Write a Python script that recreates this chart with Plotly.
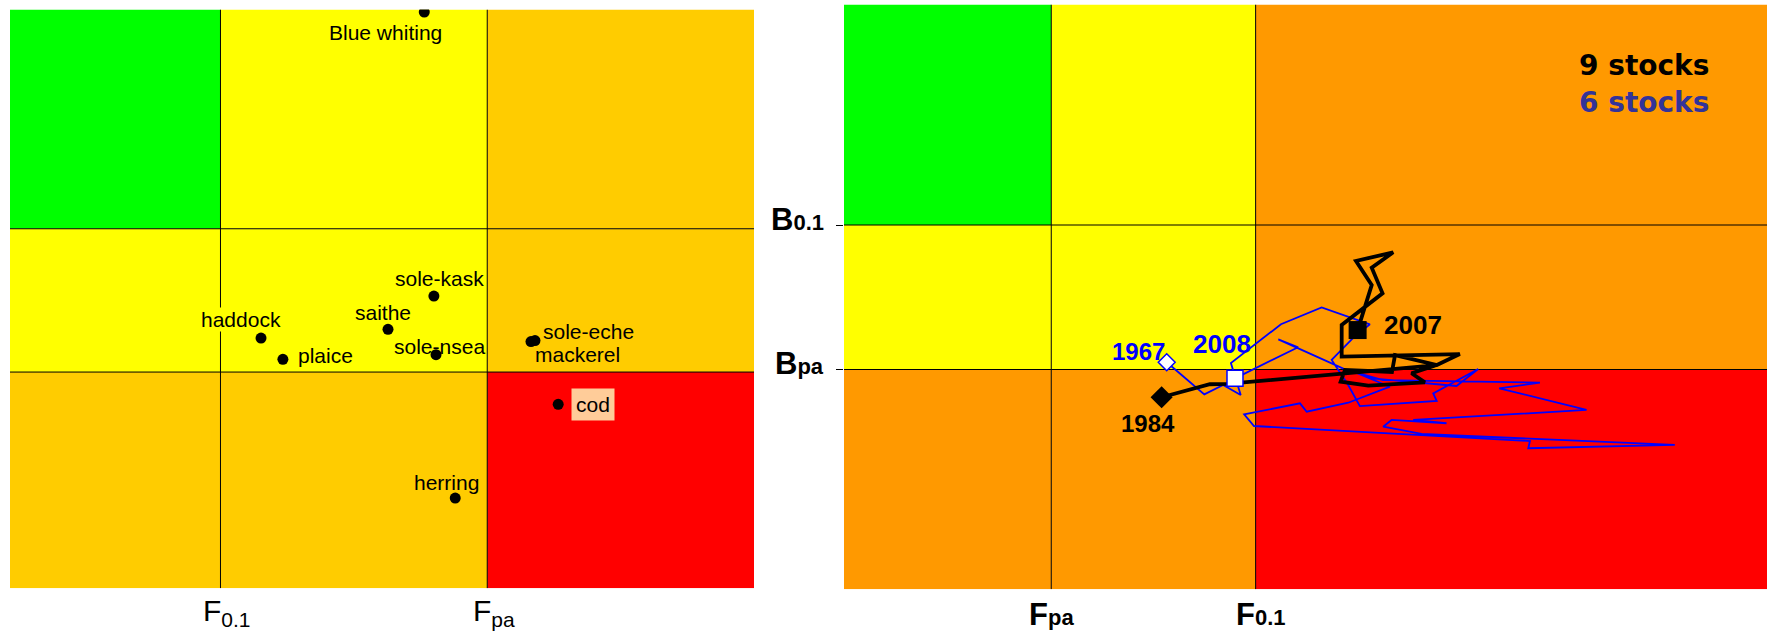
import plotly.graph_objects as go

# ---------------- Data ----------------
# Left panel: stock status, F relative (F0.1 = 1, Fpa = 2), B relative (lower ref = 1, upper ref = 2)
stocks = ["Blue whiting", "haddock", "plaice", "saithe", "sole-kask",
          "sole-nsea", "sole-eche", "mackerel", "cod", "herring"]
stock_f = [1.764, 1.152, 1.234, 1.628, 1.800, 1.808, 2.179, 2.164, 2.266, 1.880]
stock_b = [3.512, 1.237, 1.089, 1.298, 1.530, 1.121, 1.220, 1.213, 0.775, 0.121]

# Right panel: trajectories (F relative: Fpa = 1, F0.1 = 2 ; B relative: Bpa = 1, B0.1 = 2)
nine_f = [1.540, 1.776, 1.860, 2.887, 2.763, 2.828, 2.551, 2.416, 2.437, 2.667, 2.682,
          2.887, 2.999, 2.421, 2.421, 2.621, 2.568, 2.673, 2.491, 2.568, 2.499]
nine_b = [0.808, 0.898, 0.900, 1.031, 0.974, 0.911, 0.888, 0.916, 0.997, 0.983, 1.100,
          1.031, 1.107, 1.089, 1.308, 1.527, 1.704, 1.811, 1.751, 1.585, 1.273]
six_f = [1.565, 1.749, 1.841, 1.927, 1.879, 2.124, 2.323, 2.559, 2.470, 2.372, 2.453,
         2.510, 2.886, 2.869, 3.089, 2.983, 2.568, 2.470, 2.657, 2.453, 2.250, 2.217,
         1.944, 1.992, 3.342, 3.334, 4.051, 2.812, 2.624, 2.665, 2.934, 2.771, 3.619,
         3.192, 3.391, 2.623, 2.437, 2.111, 2.208, 1.899]
six_b = [1.050, 0.828, 0.893, 0.824, 1.045, 1.313, 1.430, 1.313, 1.209, 1.066, 0.893,
         0.747, 0.782, 0.835, 1.003, 0.886, 0.939, 0.990, 0.881, 0.770, 0.708, 0.766,
         0.690, 0.609, 0.505, 0.455, 0.478, 0.554, 0.604, 0.651, 0.628, 0.651, 0.720,
         0.870, 0.909, 0.927, 1.001, 1.209, 1.154, 0.939]
nine_years = ["1984", "2007"]
six_years = ["1967", "2008"]

# Reference points
L_F01, L_FPA = 1.0, 2.0
L_BLO, L_BHI = 1.0, 2.0
R_FPA, R_F01 = 1.0, 2.0
R_BPA, R_B01 = 1.0, 2.0

L_XR = [0.211, 3.0]
L_YR = [-0.509, 3.530]
R_XR = [-0.014, 4.502]
R_YR = [-0.521, 3.526]

GREEN, YELLOW, GOLD, ORANGE, RED = "#00FF00", "#FFFF00", "#FFCC00", "#FF9900", "#FF0000"

W, H = 1767, 632

fig = go.Figure()

# ---------------- Background zones ----------------
shapes = []
def zones(xref, yref, xedges, yedges, colors):
    # colors: rows top->bottom, cols left->right
    for r in range(3):
        for c in range(3):
            shapes.append(dict(type="rect", xref=xref, yref=yref, layer="below",
                               x0=xedges[c], x1=xedges[c + 1],
                               y0=yedges[2 - r], y1=yedges[3 - r],
                               fillcolor=colors[r][c], line=dict(width=0)))

zones("x", "y", [L_XR[0], L_F01, L_FPA, L_XR[1]], [L_YR[0], L_BLO, L_BHI, L_YR[1]],
      [[GREEN, YELLOW, GOLD], [YELLOW, YELLOW, GOLD], [GOLD, GOLD, RED]])
zones("x2", "y2", [R_XR[0], R_FPA, R_F01, R_XR[1]], [R_YR[0], R_BPA, R_B01, R_YR[1]],
      [[GREEN, YELLOW, ORANGE], [YELLOW, YELLOW, ORANGE], [ORANGE, ORANGE, RED]])

def vline(xref, yref, x, yr):
    shapes.append(dict(type="line", xref=xref, yref=yref, layer="below",
                       x0=x, x1=x, y0=yr[0], y1=yr[1], line=dict(color="black", width=1)))

def hline(xref, yref, y, xr):
    shapes.append(dict(type="line", xref=xref, yref=yref, layer="below",
                       x0=xr[0], x1=xr[1], y0=y, y1=y, line=dict(color="black", width=1)))

for v in (L_F01, L_FPA):
    vline("x", "y", v, L_YR)
for v in (L_BLO, L_BHI):
    hline("x", "y", v, L_XR)
for v in (R_FPA, R_F01):
    vline("x2", "y2", v, R_YR)
for v in (R_BPA, R_B01):
    hline("x2", "y2", v, R_XR)

# ---------------- Traces ----------------
fig.add_trace(go.Scatter(x=stock_f, y=stock_b, mode="markers", xaxis="x", yaxis="y",
                         marker=dict(color="black", size=11), showlegend=False,
                         text=stocks, hoverinfo="text"))

fig.add_trace(go.Scatter(x=six_f, y=six_b, mode="lines", xaxis="x2", yaxis="y2",
                         line=dict(color="#0000FF", width=1.8), showlegend=False))
fig.add_trace(go.Scatter(x=nine_f, y=nine_b, mode="lines", xaxis="x2", yaxis="y2",
                         line=dict(color="black", width=3.8), showlegend=False))
# start / end markers
fig.add_trace(go.Scatter(x=[six_f[0]], y=[six_b[0]], mode="markers", xaxis="x2", yaxis="y2",
                         marker=dict(symbol="diamond", size=13, color="white",
                                     line=dict(color="#0000FF", width=1.5)), showlegend=False))
fig.add_trace(go.Scatter(x=[six_f[-1]], y=[six_b[-1]], mode="markers", xaxis="x2", yaxis="y2",
                         marker=dict(symbol="square", size=16, color="white",
                                     line=dict(color="#0000FF", width=1.5)), showlegend=False))
fig.add_trace(go.Scatter(x=[nine_f[0]], y=[nine_b[0]], mode="markers", xaxis="x2", yaxis="y2",
                         marker=dict(symbol="diamond", size=17, color="black"), showlegend=False))
fig.add_trace(go.Scatter(x=[nine_f[-1]], y=[nine_b[-1]], mode="markers", xaxis="x2", yaxis="y2",
                         marker=dict(symbol="square", size=18, color="black"), showlegend=False))

# ---------------- Annotations ----------------
ann = []
LFONT = dict(family="Liberation Sans, Arial", size=21, color="black")
# stock labels: (x, y, xanchor, bgcolor)
label_pos = {
    "Blue whiting": (1.617, 3.366, "center", None),
    "haddock": (1.077, 1.368, "center", YELLOW),
    "plaice": (1.283, 1.117, "left", None),
    "saithe": (1.608, 1.417, "center", None),
    "sole-kask": (1.820, 1.654, "center", None),
    "sole-nsea": (1.820, 1.178, "center", None),
    "sole-eche": (2.201, 1.283, "left", None),
    "mackerel": (2.170, 1.124, "left", None),
    "cod": (2.398, 0.777, "center", "#FFCC99"),
    "herring": (1.849, 0.228, "center", None),
}
for name in stocks:
    lx, ly, xa, bg = label_pos[name]
    a = dict(x=lx, y=ly, xref="x", yref="y", text=name, showarrow=False,
             xanchor=xa, yanchor="middle", font=LFONT)
    if bg:
        a["bgcolor"] = bg
        a["borderpad"] = 4 if name == "cod" else 0
    ann.append(a)

# left x tick labels
for v, t in ((L_F01, "F<sub>0.1</sub>"), (L_FPA, "F<sub>pa</sub>")):
    ann.append(dict(x=v, y=(H - 612) / H, xref="x", yref="paper", text=t, showarrow=False,
                    xanchor="center", yanchor="middle", xshift=7,
                    font=dict(family="Liberation Sans, Arial", size=30, color="black")))

BFONT = dict(family="Liberation Sans, Arial", size=31, color="black")
# right x tick labels
for v, t, xs in ((R_FPA, "pa", 0), (R_F01, "0.1", 5)):
    ann.append(dict(x=v, y=(H - 614) / H, xref="x2", yref="paper",
                    text="<b>F<span style='font-size:22px'>" + t + "</span></b>",
                    showarrow=False, xanchor="center", yanchor="middle", xshift=xs, font=BFONT))
# right y tick labels
for v, t in ((R_B01, "0.1"), (R_BPA, "pa")):
    ann.append(dict(x=826 / W, y=v, xref="paper", yref="y2",
                    text="<b>B<span style='font-size:22px'>" + t + "</span></b>",
                    showarrow=False, xanchor="right", yanchor="middle", yshift=6, font=BFONT))

# year labels
YB = dict(family="Liberation Sans, Arial", color="black")
ann.append(dict(x=1.471, y=0.628, xref="x2", yref="y2", text="<b>" + nine_years[0] + "</b>",
                showarrow=False, font=dict(YB, size=24)))
ann.append(dict(x=2.619, y=1.308, xref="x2", yref="y2", text="<b>" + nine_years[1] + "</b>",
                showarrow=False, xanchor="left", font=dict(YB, size=26)))
ann.append(dict(x=1.428, y=1.123, xref="x2", yref="y2", text="<b>" + six_years[0] + "</b>",
                showarrow=False, font=dict(family="Liberation Sans, Arial", size=24, color="#0000FF")))
ann.append(dict(x=1.835, y=1.176, xref="x2", yref="y2", text="<b>" + six_years[1] + "</b>",
                showarrow=False, font=dict(family="Liberation Sans, Arial", size=26, color="#0000FF")))

# legend-like texts
ann.append(dict(x=1711 / W, y=(H - 65) / H, xref="paper", yref="paper", text="<b>9 stocks</b>",
                showarrow=False, xanchor="right", yanchor="middle",
                font=dict(family="DejaVu Sans", size=28, color="black")))
ann.append(dict(x=1711 / W, y=(H - 103) / H, xref="paper", yref="paper", text="<b>6 stocks</b>",
                showarrow=False, xanchor="right", yanchor="middle",
                font=dict(family="DejaVu Sans", size=28, color="#333399")))

axis_common = dict(showgrid=False, zeroline=False, showline=False, fixedrange=True)
fig.update_layout(
    width=W, height=H,
    margin=dict(l=0, r=0, t=0, b=0),
    paper_bgcolor="white", plot_bgcolor="white",
    shapes=shapes, annotations=ann, showlegend=False,
    xaxis=dict(domain=[10 / W, 754 / W], range=L_XR, showticklabels=False, ticks="", **axis_common),
    yaxis=dict(domain=[(H - 588.3) / H, (H - 9.5) / H], range=L_YR, showticklabels=False, ticks="",
               **axis_common),
    xaxis2=dict(domain=[844 / W, 1.0], range=R_XR, showticklabels=False, ticks="", anchor="y2",
                **axis_common),
    yaxis2=dict(domain=[(H - 589.3) / H, (H - 4.5) / H], range=R_YR, showticklabels=False,
                ticks="outside", ticklen=7, tickwidth=1, tickcolor="black",
                tickvals=[R_BPA, R_B01], anchor="x2", **axis_common),
)

fig.write_html("out.html", config={"displayModeBar": False},
               post_script="document.body.style.margin='0px';document.body.style.overflow='hidden';")
